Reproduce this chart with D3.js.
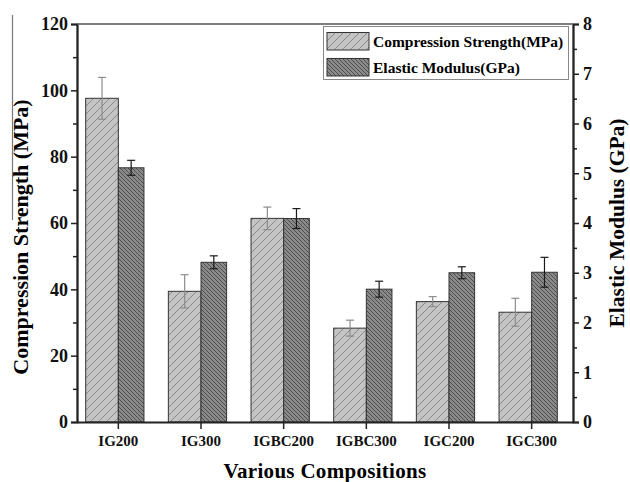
<!DOCTYPE html>
<meta charset="utf-8">
<script src="https://d3js.org/d3.v7.min.js"></script>
<style>
  body { margin: 0; background: #fff; }
  text { font-family: "Liberation Serif", "Times New Roman", serif; font-weight: bold; }
</style>
<body>
<script>

var categories = ["IG200", "IG300", "IGBC200", "IGBC300", "IGC200", "IGC300"];
var strength = [97.6, 39.4, 61.4, 28.3, 36.3, 33.1];
var strengthErr = [6.3, 5.0, 3.4, 2.4, 1.5, 4.2];
var modulus = [5.11, 3.21, 4.09, 2.67, 3.0, 3.01];
var modulusErr = [0.15, 0.13, 0.2, 0.16, 0.12, 0.3];
var leftTicks = [0, 20, 40, 60, 80, 100, 120];
var rightTicks = [0, 1, 2, 3, 4, 5, 6, 7, 8];

(function() {

var width = 630,
    height = 482,
    x0 = 77, x1 = 573, y0 = 24, y1 = 422;

var svg = d3.select("body").append("svg")
  .attr("width", width)
  .attr("height", height);

var defs = svg.append("defs");

// hatch patterns
var p1 = defs.append("pattern")
  .attr("id", "hatchA")
  .attr("patternUnits", "userSpaceOnUse")
  .attr("width", 8).attr("height", 8);
p1.append("rect").attr("width", 8).attr("height", 8).attr("fill", "#c4c4c4");
p1.append("path").attr("d", "M0,8 L8,0 M-2,2 L2,-2 M6,10 L10,6")
  .attr("stroke", "#7a7a7a").attr("stroke-width", 0.8);

var p2 = defs.append("pattern")
  .attr("id", "hatchB")
  .attr("patternUnits", "userSpaceOnUse")
  .attr("width", 4).attr("height", 4);
p2.append("rect").attr("width", 4).attr("height", 4).attr("fill", "#8a8a8a");
p2.append("path").attr("d", "M0,0 L4,4 M-1,3 L1,5 M3,-1 L5,1")
  .attr("stroke", "#3e3e3e").attr("stroke-width", 0.8);

var x = d3.scaleBand()
  .domain(categories)
  .range([x0, x1]);

var yL = d3.scaleLinear().domain([0, 120]).range([y1, y0]);
var yR = d3.scaleLinear().domain([0, 8]).range([y1, y0]);

var wA = x.step() * 0.395,
    wB = x.step() * 0.31;

function center(d) { return x(d) + x.bandwidth() / 2; }

// stray scan line at left edge
svg.append("line")
  .attr("x1", 12.5).attr("x2", 12.5).attr("y1", 15).attr("y2", 220)
  .attr("stroke", "#777").attr("stroke-width", 1.2);

// bars
svg.selectAll(".barA").data(categories).enter().append("rect")
  .attr("class", "barA")
  .attr("x", function(d) { return center(d) - wA; })
  .attr("width", wA)
  .attr("y", function(d, i) { return yL(strength[i]); })
  .attr("height", function(d, i) { return y1 - yL(strength[i]); })
  .attr("fill", "url(#hatchA)")
  .attr("stroke", "#333").attr("stroke-width", 1);

svg.selectAll(".barB").data(categories).enter().append("rect")
  .attr("class", "barB")
  .attr("x", function(d) { return center(d); })
  .attr("width", wB)
  .attr("y", function(d, i) { return yR(modulus[i]); })
  .attr("height", function(d, i) { return y1 - yR(modulus[i]); })
  .attr("fill", "url(#hatchB)")
  .attr("stroke", "#333").attr("stroke-width", 1);

// error bars
function errBars(cls, xs, vals, errs, scale, color) {
  var g = svg.selectAll("." + cls).data(categories).enter().append("g")
    .attr("class", cls)
    .attr("stroke", color).attr("stroke-width", 1.2);
  g.append("line")
    .attr("x1", xs).attr("x2", xs)
    .attr("y1", function(d, i) { return scale(vals[i] + errs[i]); })
    .attr("y2", function(d, i) { return scale(vals[i] - errs[i]); });
  [1, -1].forEach(function(s) {
    g.append("line")
      .attr("x1", function(d) { return xs(d) - 4; })
      .attr("x2", function(d) { return xs(d) + 4; })
      .attr("y1", function(d, i) { return scale(vals[i] + s * errs[i]); })
      .attr("y2", function(d, i) { return scale(vals[i] + s * errs[i]); });
  });
}
errBars("errA", function(d) { return center(d) - wA / 2; }, strength, strengthErr, yL, "#8c8c8c");
errBars("errB", function(d) { return center(d) + wB / 2; }, modulus, modulusErr, yR, "#1a1a1a");

// axes
var axL = svg.append("g").attr("transform", "translate(" + x0 + ",0)")
  .call(d3.axisLeft(yL).tickValues(leftTicks).tickSize(6).tickPadding(3).tickFormat(d3.format("d")));
var axLm = svg.append("g").attr("transform", "translate(" + x0 + ",0)")
  .call(d3.axisLeft(yL).tickValues(d3.range(10, 120, 20)).tickSize(4).tickSizeOuter(0).tickFormat(""));
var axR = svg.append("g").attr("transform", "translate(" + x1 + ",0)")
  .call(d3.axisRight(yR).tickValues(rightTicks).tickSize(6).tickPadding(4).tickFormat(d3.format("d")));
var axRm = svg.append("g").attr("transform", "translate(" + x1 + ",0)")
  .call(d3.axisRight(yR).tickValues(d3.range(0.5, 8, 1)).tickSize(4).tickSizeOuter(0).tickFormat(""));
var axB = svg.append("g").attr("transform", "translate(0," + y1 + ")")
  .call(d3.axisBottom(x).tickSize(7).tickSizeOuter(0).tickPadding(6));

[axL, axLm, axR, axRm, axB].forEach(function(a) {
  a.select(".domain").attr("stroke", "#222").attr("stroke-width", 1.8);
  a.selectAll(".tick line").attr("stroke", "#222").attr("stroke-width", 1.5);
});
axL.selectAll("text").style("font-size", "18px").attr("fill", "#111");
axR.selectAll("text").style("font-size", "18px").attr("fill", "#111");
axB.selectAll("text").style("font-size", "15px").attr("fill", "#111");

// top frame line
svg.append("line")
  .attr("x1", x0).attr("x2", x1).attr("y1", y0).attr("y2", y0)
  .attr("stroke", "#555").attr("stroke-width", 1.5);

// axis titles
svg.append("text")
  .attr("transform", "translate(28,237) rotate(-90)")
  .attr("text-anchor", "middle")
  .style("font-size", "22px")
  .text("Compression Strength (MPa)");

svg.append("text")
  .attr("transform", "translate(624,223) rotate(-90)")
  .attr("text-anchor", "middle")
  .style("font-size", "21.5px")
  .text("Elastic Modulus (GPa)");

svg.append("text")
  .attr("x", 325).attr("y", 478)
  .attr("text-anchor", "middle")
  .style("font-size", "21px")
  .style("letter-spacing", "0.3px")
  .text("Various Compositions");

// legend
var legend = svg.append("g");
legend.append("rect")
  .attr("x", 323.5).attr("y", 26.5).attr("width", 245).attr("height", 53)
  .attr("fill", "#fff").attr("stroke", "#888").attr("stroke-width", 1);
var legItems = [
  { label: "Compression Strength(MPa)", fill: "url(#hatchA)" },
  { label: "Elastic Modulus(GPa)", fill: "url(#hatchB)" }
];
legItems.forEach(function(d, i) {
  legend.append("rect")
    .attr("x", 327).attr("y", 32.5 + i * 26).attr("width", 42).attr("height", 17.5)
    .attr("fill", d.fill).attr("stroke", "#333").attr("stroke-width", 1);
  legend.append("text")
    .attr("x", 373).attr("y", 47 + i * 26)
    .style("font-size", "15.5px")
    .text(d.label);
});

})();

</script>
</body>
